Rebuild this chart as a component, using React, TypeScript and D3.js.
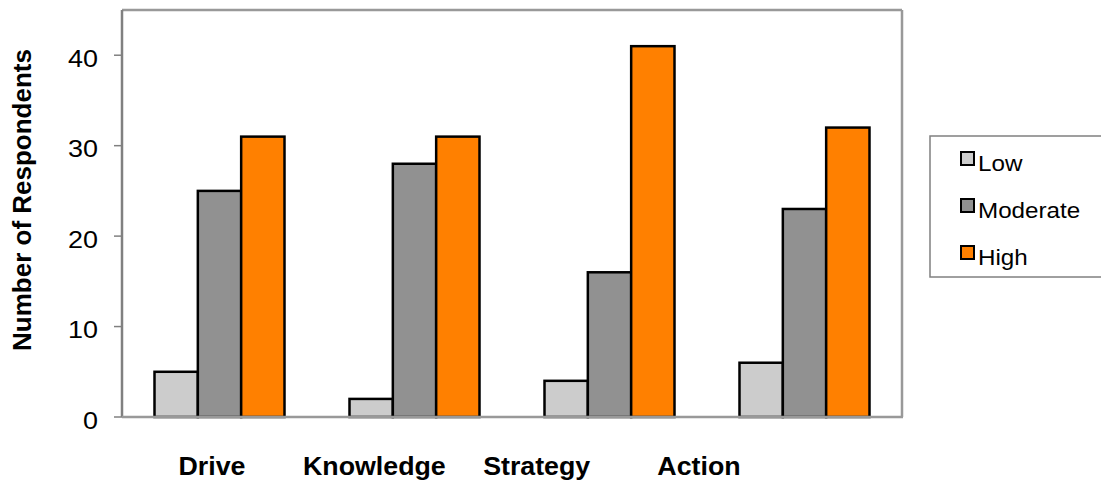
import React from "react";
import * as d3 from "d3";

const categories = ["Drive", "Knowledge", "Strategy", "Action"];
const seriesNames = ["Low", "Moderate", "High"];
const lowValues = [5, 2, 4, 6];
const moderateValues = [25, 28, 16, 23];
const highValues = [31, 31, 41, 32];
const yTicks = [0, 10, 20, 30, 40];
const colors = ["#cccccc", "#919191", "#ff8000"];

const W = 1101;
const H = 482;
const plot = { left: 122, right: 902, top: 10, bottom: 417 };
const FONT = "'Liberation Sans', Arial, Helvetica, sans-serif";

export default function App() {
  const series = [lowValues, moderateValues, highValues];
  const x = d3
    .scaleBand<string>()
    .domain(categories)
    .range([plot.left, plot.right])
    .paddingInner(1 / 3)
    .paddingOuter(1 / 6);
  const xs = d3
    .scaleBand<string>()
    .domain(seriesNames)
    .range([0, x.bandwidth()]);
  const y = d3.scaleLinear().domain([0, 45]).range([plot.bottom, plot.top]);
  const labelX = d3.scalePoint<string>().domain(categories).range([212, 699]);
  const legendY = d3.scalePoint<string>().domain(seriesNames).range([159, 253]);

  return (
    <svg
      width={W}
      height={H}
      style={{ position: "absolute", left: 0, top: 0, background: "#fff" }}
      fontFamily={FONT}
    >
      {/* frame */}
      <line x1={plot.left} x2={plot.right} y1={plot.top} y2={plot.top} stroke="#999" strokeWidth={2.5} />
      <line x1={plot.right} x2={plot.right} y1={plot.top} y2={plot.bottom} stroke="#999" strokeWidth={2.5} />
      <line x1={plot.left} x2={plot.left} y1={plot.top} y2={plot.bottom} stroke="#808080" strokeWidth={2.5} />
      {/* y ticks */}
      {yTicks.map((t) => (
        <g key={t}>
          <line x1={plot.left - 8} x2={plot.left} y1={y(t)} y2={y(t)} stroke="#808080" strokeWidth={1.5} />
          <text
            transform={`translate(98,${y(t) + 11.8}) scale(1.1,1)`}
            textAnchor="end"
            fontSize={24.5}
            fill="#000"
          >
            {t}
          </text>
        </g>
      ))}
      {/* bars */}
      {categories.map((c, ci) => (
        <g key={c} transform={`translate(${x(c)},0)`}>
          {seriesNames.map((s, si) => (
            <rect
              key={s}
              x={xs(s)}
              y={y(series[si][ci])}
              width={xs.bandwidth()}
              height={y(0) - y(series[si][ci])}
              fill={colors[si]}
              stroke="#000"
              strokeWidth={2.5}
            />
          ))}
        </g>
      ))}
      {/* x axis line */}
      <line x1={plot.left} x2={plot.right + 1} y1={plot.bottom} y2={plot.bottom} stroke="#999" strokeWidth={2.5} />
      {/* x labels */}
      {categories.map((c) => (
        <text
          key={c}
          transform={`translate(${labelX(c)},475) scale(1.03,1)`}
          textAnchor="middle"
          fontSize={26}
          fontWeight="bold"
          fill="#000"
        >
          {c}
        </text>
      ))}
      {/* y title */}
      <text
        transform="translate(31,200) rotate(-90)"
        textAnchor="middle"
        fontSize={26}
        fontWeight="bold"
        fill="#000"
      >
        Number of Respondents
      </text>
      {/* legend */}
      <rect x={930} y={136} width={200} height={141} fill="#fff" stroke="#808080" strokeWidth={1.5} />
      {seriesNames.map((s, si) => (
        <g key={s}>
          <rect x={961} y={legendY(s)! - 7} width={13} height={13} fill={colors[si]} stroke="#000" strokeWidth={2} />
          <text
            transform={`translate(978,${legendY(s)! + 11.5}) scale(1.1,1)`}
            fontSize={22}
            fill="#000"
          >
            {s}
          </text>
        </g>
      ))}
    </svg>
  );
}
